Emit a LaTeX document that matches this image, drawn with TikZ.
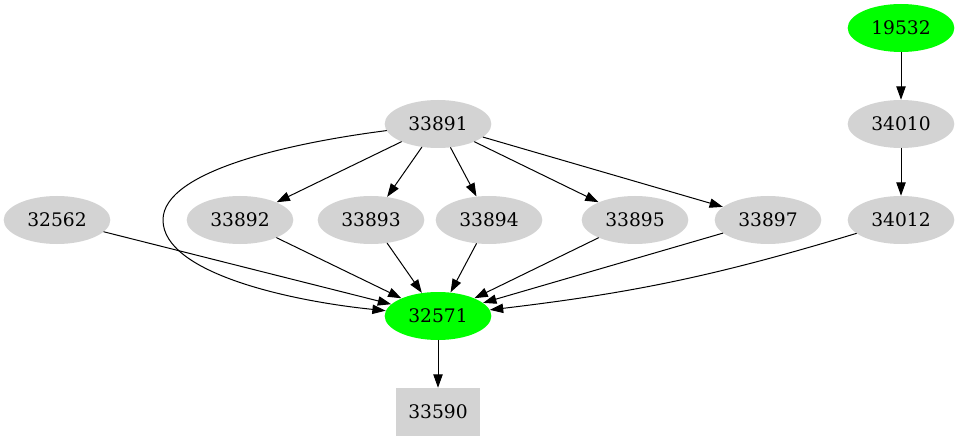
\documentclass[tikz,border=0pt]{standalone}
\usepackage{fontspec}
\setmainfont{DejaVu Serif}
\usetikzlibrary{arrows.meta,shapes.geometric}
\definecolor{qqffqq}{rgb}{0,1,0}
\definecolor{dtdtdt}{rgb}{0.827,0.827,0.827}
\tikzset{
	gnode/.style={ellipse,fill=dtdtdt,minimum width=80pt,minimum height=36pt,inner sep=0pt,font=\fontsize{14}{16}\selectfont},
	hnode/.style={gnode,fill=qqffqq},
	bnode/.style={rectangle,fill=dtdtdt,minimum width=63pt,minimum height=36pt,inner sep=0pt,font=\fontsize{14}{16}\selectfont},
	edge/.style={-{Triangle[length=10pt,width=7pt]},line width=0.75pt}
}
\begin{document}
\begin{tikzpicture}[line cap=round,line join=round,x=0.75pt,y=0.75pt]
	\useasboundingbox (0,0) rectangle (959,443);
	\node[hnode] (n19532) at (901,415) {19532};
	\node[gnode] (n34010) at (901,319) {34010};
	\node[gnode] (n33891) at (438,319) {33891};
	\node[gnode] (n32562) at (57,223) {32562};
	\node[gnode] (n33892) at (240,223) {33892};
	\node[gnode] (n33893) at (371,223) {33893};
	\node[gnode] (n33894) at (489,223) {33894};
	\node[gnode] (n33895) at (635,223) {33895};
	\node[gnode] (n33897) at (768,223) {33897};
	\node[gnode] (n34012) at (901,223) {34012};
	\node[hnode] (n32571) at (438,127) {32571};
	\node[bnode] (n33590) at (438,31) {33590};
	\coordinate (c1) at (163,223);
	% right chain
	\draw[edge] (n19532) -- (n34010);
	\draw[edge] (n34010) -- (n34012);
	% fan out of 33891
	\draw[edge] (n33891) -- (n33892);
	\draw[edge] (n33891) -- (n33893);
	\draw[edge] (n33891) -- (n33894);
	\draw[edge] (n33891) -- (n33895);
	\draw[edge] (n33891) -- (n33897);
	\draw[edge] (n33891) .. controls (290,300) and (163,272) .. (c1) .. controls (163,170) and (290,142) .. (n32571);
	% into 32571
	\draw[edge] (n32562) -- (n32571);
	\draw[edge] (n33892) -- (n32571);
	\draw[edge] (n33893) -- (n32571);
	\draw[edge] (n33894) -- (n32571);
	\draw[edge] (n33895) -- (n32571);
	\draw[edge] (n33897) -- (n32571);
	\draw[edge] (n34012) to[bend left=5] (n32571);
	\draw[edge] (n32571) -- (n33590);
\end{tikzpicture}
\end{document}
